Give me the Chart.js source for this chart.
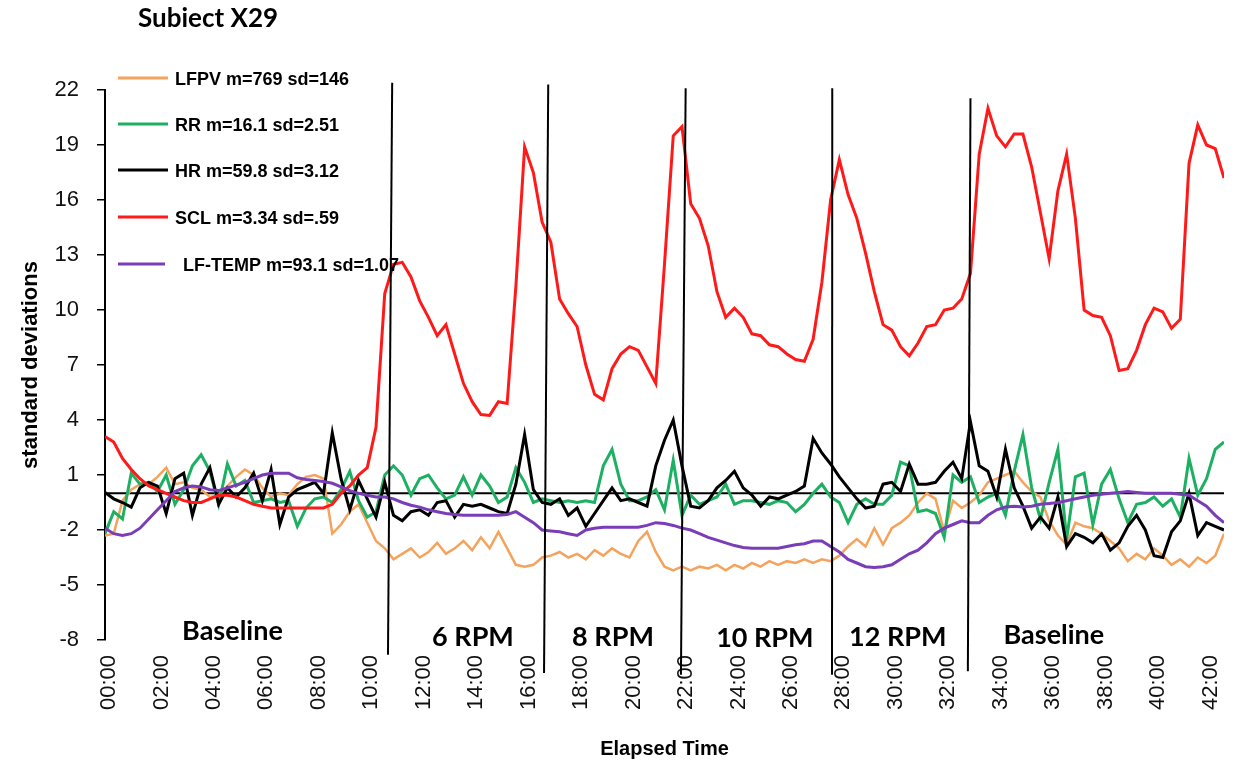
<!DOCTYPE html>
<html>
<head>
<meta charset="utf-8">
<script src="https://cdn.jsdelivr.net/npm/chart.js@4.4.1/dist/chart.umd.min.js"></script>
<style>
  html, body { margin: 0; padding: 0; background: #fff; }
</style>
</head>
<body>
<canvas id="chart" width="1235" height="767"></canvas>
<script>
// one sample every 20 seconds, values in standard deviations
const STEP_MIN = 1 / 3;

const lfpv = [
  -2.3, -2.2, -0.4, 0.2, 0.5, 0.5, 0.9, 1.4, 0.5, 0.6,
  0.3, 0.2, -0.2, -0.1, 0.4, 0.9, 1.3, 1.0, 0.3, -0.2,
  0.0, -0.1, 0.5, 0.9, 1.0, 0.8, -2.2, -1.7, -1.0, -0.6,
  -1.6, -2.6, -3.0, -3.6, -3.3, -3.0, -3.5, -3.2, -2.7, -3.3,
  -3.0, -2.6, -3.1, -2.4, -3.0, -2.1, -3.0, -3.9, -4.0, -3.9,
  -3.5, -3.4, -3.2, -3.5, -3.3, -3.6, -3.1, -3.4, -3.0, -3.3,
  -3.5, -2.6, -2.1, -3.2, -4.0, -4.2, -4.0, -4.2, -4.0, -4.1,
  -3.9, -4.2, -3.9, -4.1, -3.8, -4.0, -3.7, -3.9, -3.7, -3.8,
  -3.6, -3.8, -3.6, -3.7, -3.4, -2.9, -2.5, -2.9, -1.9, -2.8,
  -1.9, -1.6, -1.2, -0.5, 0.0, -0.3, -2.1, -0.4, -0.8, -0.5,
  -0.1, 0.6, 0.8, 1.0, 1.2, 0.6, 0.1, -0.2, -1.5, -2.3,
  -2.8, -1.6, -1.8, -1.9, -2.2, -2.6, -3.0, -3.7, -3.3, -3.6,
  -3.0, -3.4, -3.9, -3.6, -4.0, -3.5, -3.8, -3.4, -2.2
];

const rr = [
  -2.2, -1.0, -1.4, 1.1, 0.5, 0.6, 0.1, 1.0, -0.6, 0.2,
  1.5, 2.1, 1.2, -0.6, 1.6, 0.4, 0.7, -0.5, -0.4, -0.3,
  -0.5, -0.4, -1.8, -0.8, -0.3, -0.2, -0.5, 0.2, 1.2, -0.4,
  -1.3, -1.0, 1.0, 1.5, 1.0, -0.1, 0.8, 1.0, 0.3, -0.3,
  -0.1, 0.9, -0.1, 1.0, 0.4, -0.5, -0.2, 1.4, 0.6, -0.5,
  -0.3, -0.4, -0.5, -0.4, -0.5, -0.4, -0.5, 1.5, 2.4, 0.5,
  -0.4, -0.4, -0.2, 0.2, -0.9, 1.8, -1.2, -0.1, -0.6, -0.4,
  -0.2, 0.5, -0.6, -0.4, -0.4, -0.5, -0.6, -0.4, -0.5, -1.0,
  -0.6, 0.0, 0.5, -0.2, -0.5, -1.6, -0.6, -0.3, -0.6, -0.6,
  -0.1, 1.7, 1.5, -1.0, -0.9, -1.1, -2.4, 1.0, 0.6, 0.9,
  -0.5, -0.2, 0.0, -1.2, 1.2, 3.2, 0.3, -1.4, 0.6, 2.4,
  -2.5, 0.9, 1.1, -1.7, 0.5, 1.3, -0.3, -1.6, -0.6, -0.5,
  -0.2, -0.7, -0.3, -1.3, 1.9, -0.1, 0.8, 2.4, 2.8
];

const hr = [
  0.05, -0.3, -0.5, -0.75, 0.3, 0.6, 0.4, -1.1, 0.8, 1.1,
  -1.2, 0.5, 1.4, -0.6, 0.3, -0.2, 0.3, 1.1, -0.4, 1.3,
  -1.7, -0.2, 0.2, 0.4, 0.6, 0.0, 3.3, 0.8, -0.9, 0.7,
  -0.3, -1.3, 0.6, -1.2, -1.5, -1.0, -0.9, -1.2, -0.5, -0.4,
  -1.3, -0.6, -0.7, -0.6, -0.8, -1.0, -1.1, 0.5, 3.2, 0.2,
  -0.5, -0.6, -0.3, -1.2, -0.8, -1.8, -1.1, -0.4, 0.3, -0.4,
  -0.3, -0.5, -0.7, 1.5, 2.9, 4.0, 1.5, -0.7, -0.8, -0.4,
  0.3, 0.7, 1.2, 0.3, -0.1, -0.7, -0.2, -0.3, -0.1, 0.1,
  0.4, 3.0, 2.2, 1.6, 0.9, 0.3, -0.3, -0.8, -0.7, 0.5,
  0.6, 0.1, 1.6, 0.5, 0.5, 0.6, 1.2, 1.7, 0.8, 3.9,
  1.5, 1.2, -0.2, 2.4, 0.3, -0.7, -1.9, -1.3, -1.9, -0.2,
  -2.9, -2.2, -2.4, -2.7, -2.2, -3.1, -2.7, -1.8, -1.2, -2.0,
  -3.4, -3.5, -2.1, -1.5, 0.0, -2.3, -1.6, -1.8, -2.0
];

const scl = [
  3.1, 2.8, 1.9, 1.3, 0.8, 0.4, 0.2, 0.0, -0.2, -0.4,
  -0.5, -0.5, -0.3, -0.1, -0.1, -0.2, -0.4, -0.6, -0.7, -0.8,
  -0.8, -0.8, -0.8, -0.8, -0.8, -0.8, -0.6, 0.0, 0.4, 1.0,
  1.4, 3.6, 10.9, 12.5, 12.6, 11.8, 10.5, 9.6, 8.6, 9.2,
  7.6, 6.0, 5.0, 4.3, 4.25, 5.0, 4.9, 11.3, 18.9, 17.5,
  14.8, 13.7, 10.6, 9.8, 9.1, 7.0, 5.4, 5.1, 6.8, 7.6,
  8.0, 7.8, 6.9, 6.0, 12.5, 19.5, 20.0, 15.8, 15.0, 13.5,
  11.0, 9.6, 10.1, 9.6, 8.7, 8.6, 8.1, 8.0, 7.6, 7.3,
  7.2, 8.4, 11.5, 16.0, 18.2, 16.3, 15.0, 13.1, 11.0, 9.2,
  8.9, 8.0, 7.5, 8.2, 9.1, 9.2, 10.0, 10.1, 10.6, 12.0,
  18.5, 21.0, 19.5, 18.9, 19.6, 19.6, 17.8, 15.3, 12.8, 16.5,
  18.5, 15.0, 10.0, 9.7, 9.6, 8.6, 6.7, 6.8, 7.8, 9.2,
  10.1, 9.9, 9.0, 9.5, 18.0, 20.1, 19.0, 18.8, 17.2
];

const lfTemp = [
  -1.9, -2.2, -2.3, -2.2, -1.9, -1.4, -0.9, -0.4, 0.1, 0.3,
  0.4, 0.35, 0.2, 0.15, 0.3, 0.45, 0.6, 0.8, 1.0, 1.1,
  1.1, 1.1, 0.85, 0.75, 0.7, 0.65, 0.55, 0.35, 0.15, 0.0,
  -0.1, -0.2, -0.2, -0.3, -0.5, -0.65, -0.75, -0.9, -1.0, -1.1,
  -1.15, -1.2, -1.2, -1.2, -1.2, -1.2, -1.15, -1.0, -1.3, -1.6,
  -2.0, -2.05, -2.1, -2.2, -2.3, -2.0, -1.9, -1.85, -1.85, -1.85,
  -1.85, -1.85, -1.75, -1.6, -1.65, -1.75, -1.9, -2.0, -2.2, -2.4,
  -2.55, -2.7, -2.85, -2.95, -3.0, -3.0, -3.0, -3.0, -2.9, -2.8,
  -2.75, -2.6, -2.6, -2.9, -3.2, -3.6, -3.8, -4.0, -4.05, -4.0,
  -3.9, -3.6, -3.3, -3.1, -2.7, -2.2, -1.9, -1.7, -1.5, -1.6,
  -1.6, -1.2, -0.9, -0.75, -0.7, -0.75, -0.7, -0.6, -0.55, -0.5,
  -0.4, -0.3, -0.2, -0.1, -0.05, 0.0, 0.05, 0.1, 0.05, 0.0,
  0.0, 0.0, 0.0, -0.05, -0.1, -0.4, -0.7, -1.2, -1.6
];

const seriesLabels = [
  "LFPV m=769 sd=146",
  "RR m=16.1 sd=2.51",
  "HR m=59.8 sd=3.12",
  "SCL m=3.34 sd=.59",
  "LF-TEMP m=93.1 sd=1.07",
];
const seriesColors = ["#F5A35C", "#1DB062", "#000000", "#FF1A1A", "#7A3DB8"];
const seriesWidths = [2.5, 3, 3, 3, 3];
const seriesOrder = [4, 3, 2, 1, 0];

// protocol phases (minutes)
const phaseNames = ["Baseline", "6 RPM", "8 RPM", "10 RPM", "12 RPM", "Baseline"];
const phaseLabelX = [4.86, 14.03, 19.37, 25.16, 30.23, 36.18];
const phaseLabelY = [-8.0, -8.3, -8.3, -8.4, -8.35, -8.2];
const boundaryTopX = [10.95, 16.9, 22.14, 27.73, 33.0];
const boundaryBottomX = [10.79, 16.74, 21.96, 27.72, 32.9];
const boundaryTopY = [22.4, 22.3, 22.1, 22.1, 21.55];
const boundaryBottomY = [-8.8, -9.8, -9.9, -9.9, -9.7];

const allSeries = [lfpv, rr, hr, scl, lfTemp];
const toPoints = (arr) => arr.map((v, i) => ({ x: i * STEP_MIN, y: v }));

function mmss(v) {
  const m = Math.round(v);
  return (m < 10 ? "0" : "") + m + ":00";
}

const decor = {
  id: "decor",
  beforeDatasetsDraw(chart) {
    const { ctx, chartArea, scales } = chart;
    const y0 = scales.y.getPixelForValue(0);
    ctx.save();
    ctx.strokeStyle = "#000";
    ctx.lineWidth = 2;
    ctx.beginPath();
    ctx.moveTo(chartArea.left, y0);
    ctx.lineTo(chartArea.right, y0);
    ctx.stroke();
    ctx.restore();
  },
  afterDatasetsDraw(chart) {
    const { ctx, scales } = chart;
    const x = scales.x, y = scales.y;
    ctx.save();

    // phase boundaries
    ctx.strokeStyle = "#000";
    ctx.lineWidth = 2;
    boundaryTopX.forEach((t, i) => {
      ctx.beginPath();
      ctx.moveTo(x.getPixelForValue(t), y.getPixelForValue(boundaryTopY[i]));
      ctx.lineTo(x.getPixelForValue(boundaryBottomX[i]), y.getPixelForValue(boundaryBottomY[i]));
      ctx.stroke();
    });

    // phase names
    ctx.fillStyle = "#000";
    ctx.font = "bold 27px Lato";
    ctx.textAlign = "center";
    ctx.textBaseline = "alphabetic";
    phaseNames.forEach((name, i) => {
      ctx.fillText(name, x.getPixelForValue(phaseLabelX[i]), y.getPixelForValue(phaseLabelY[i]));
    });

    // legend
    const rows = [78, 124, 170, 217, 264];
    ctx.font = "bold 18px 'Liberation Sans', Arial";
    ctx.textAlign = "left";
    ctx.textBaseline = "middle";
    chart.data.datasets.forEach((ds, i) => {
      const last = i === 4;
      ctx.strokeStyle = ds.borderColor;
      ctx.lineWidth = 3;
      ctx.beginPath();
      ctx.moveTo(118, rows[i]);
      ctx.lineTo(last ? 165 : 168, rows[i]);
      ctx.stroke();
      ctx.fillStyle = "#000";
      ctx.fillText(ds.label, last ? 183 : 175, rows[i] + 2);
    });

    // title
    ctx.font = "bold 26px Lato";
    ctx.textBaseline = "alphabetic";
    ctx.fillText("Subiect X29", 138, 27);
    ctx.restore();
  },
};

new Chart(document.getElementById("chart"), {
  type: "line",
  data: {
    datasets: allSeries.map((arr, i) => ({
      label: seriesLabels[i],
      data: toPoints(arr),
      borderColor: seriesColors[i],
      backgroundColor: seriesColors[i],
      borderWidth: seriesWidths[i],
      order: seriesOrder[i],
      pointRadius: 0,
      tension: 0,
      fill: false,
    })),
  },
  options: {
    responsive: false,
    animation: false,
    devicePixelRatio: 1,
    layout: { padding: { top: 90, right: 11, left: 0, bottom: 0 } },
    plugins: { legend: { display: false }, tooltip: { enabled: false } },
    scales: {
      x: {
        type: "linear",
        min: 0,
        max: (lfpv.length - 1) * STEP_MIN,
        grid: { display: false, drawTicks: false },
        border: { display: false },
        ticks: {
          stepSize: 2,
          includeBounds: false,
          autoSkip: false,
          minRotation: 90,
          maxRotation: 90,
          padding: 15,
          labelOffset: 4,
          color: "#111",
          font: { family: "'Liberation Sans', Arial", size: 22 },
          callback: (v) => mmss(v),
        },
        title: {
          display: true,
          text: "Elapsed Time",
          color: "#000",
          font: { family: "'Liberation Sans', Arial", size: 20, weight: "bold" },
          padding: { top: 0, bottom: 6 },
        },
        afterFit: (s) => {
          s.height = 127;
          s.paddingLeft = 0;
          s.paddingRight = 0;
        },
      },
      y: {
        min: -8,
        max: 22,
        grid: { drawOnChartArea: false, drawTicks: true, tickLength: 8, tickColor: "#000", lineWidth: 1.5 },
        border: { display: true, color: "#000", width: 2 },
        ticks: {
          stepSize: 3,
          padding: 18,
          color: "#111",
          font: { family: "'Liberation Sans', Arial", size: 22 },
        },
        title: {
          display: true,
          text: "standard deviations",
          color: "#000",
          font: { family: "'Liberation Sans', Arial", size: 22, weight: "bold" },
          padding: { top: 18, bottom: 0 },
        },
        afterFit: (s) => { s.width = 105; },
      },
    },
  },
  plugins: [decor],
});
</script>
</body>
</html>
